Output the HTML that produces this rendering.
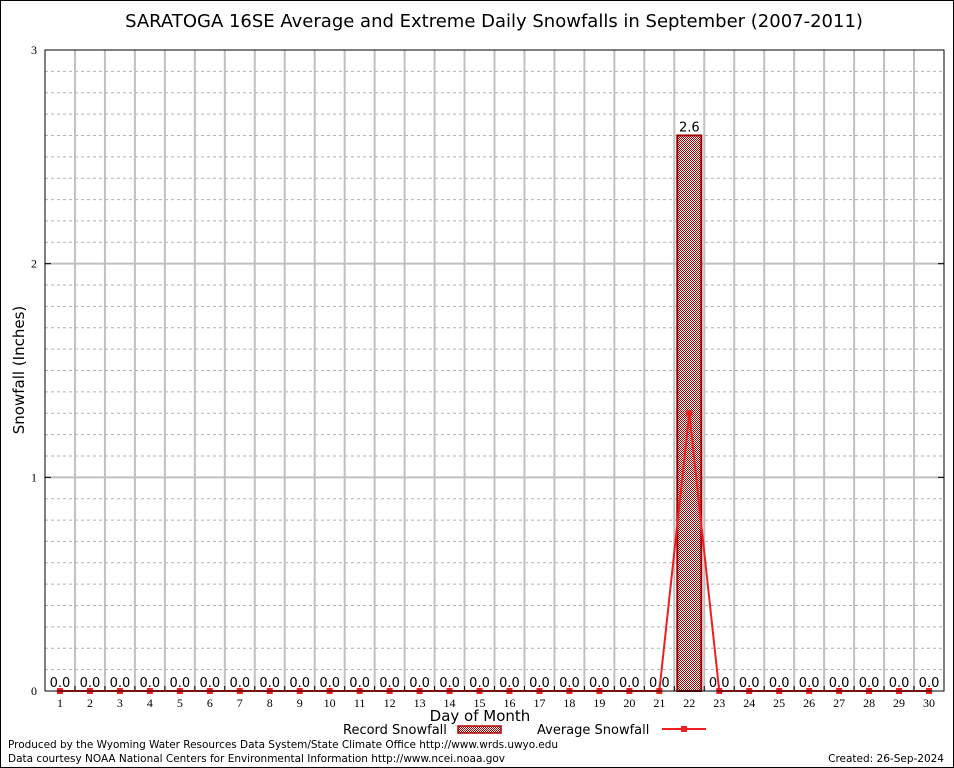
<!DOCTYPE html>
<html><head><meta charset="utf-8"><style>
body{margin:0;background:#fff}
svg{display:block}
</style></head><body>
<svg id="c" width="954" height="768" xmlns="http://www.w3.org/2000/svg" font-family="DejaVu Sans, sans-serif">
<defs>
<pattern id="hatch" width="2" height="2" patternUnits="userSpaceOnUse">
<rect width="2" height="2" fill="#fff"/>
<rect width="1" height="1" fill="#b00000"/><rect x="1" y="1" width="1" height="1" fill="#b00000"/>
</pattern>
</defs>
<rect x="0.5" y="0.5" width="953" height="767" fill="#fff" stroke="#000"/>
<text x="494" y="27" font-size="18" text-anchor="middle">SARATOGA 16SE Average and Extreme Daily Snowfalls in September (2007-2011)</text>
<g id="grid"></g>
<g id="marks"></g>
<rect x="45" y="50" width="899" height="641" fill="none" stroke="#000"/>
<text transform="translate(24,370) rotate(-90)" font-size="15" text-anchor="middle">Snowfall (Inches)</text>
<text x="480" y="721" font-size="15" text-anchor="middle">Day of Month</text>
<g>
<text x="343" y="734" font-size="13">Record Snowfall</text>
<rect x="458" y="726" width="43" height="7" fill="url(#hatch)" stroke="#b00000" stroke-width="1.5"/>
<text x="537" y="734" font-size="13">Average Snowfall</text>
<line x1="662" y1="729" x2="706" y2="729" stroke="#f02020" stroke-width="2"/>
<rect x="681" y="726" width="6" height="6" fill="#f02020"/>
</g>
<text x="8" y="748" font-size="10.5" textLength="550">Produced by the Wyoming Water Resources Data System/State Climate Office http://www.wrds.uwyo.edu</text>
<text x="8" y="762" font-size="10.5" textLength="497">Data courtesy NOAA National Centers for Environmental Information http://www.ncei.noaa.gov</text>
<text x="944" y="762" font-size="10.5" text-anchor="end">Created:  26-Sep-2024</text>
</svg>
<script>
const days = Array.from({length:30},(_,i)=>i+1);
const recordSnow = [0,0,0,0,0,0,0,0,0,0,0,0,0,0,0,0,0,0,0,0,0,2.6,0,0,0,0,0,0,0,0];
const avgSnow = [0,0,0,0,0,0,0,0,0,0,0,0,0,0,0,0,0,0,0,0,0,1.3,0,0,0,0,0,0,0,0];
const yTicks = [0,1,2,3];
const L=45,R=944,T=50,B=691,YMAX=3;
const slot=(R-L)/30;
const xs=d=>L+slot*(d-0.5);
const ys=v=>B-(v/YMAX)*(B-T);
const NS='http://www.w3.org/2000/svg';
function mk(tag,attrs,parent,txt){const e=document.createElementNS(NS,tag);for(const k in attrs)e.setAttribute(k,attrs[k]);if(txt!==undefined)e.textContent=txt;parent.appendChild(e);return e;}
const grid=document.getElementById('grid'), marks=document.getElementById('marks');
for(let v=0.1;v<YMAX-0.001;v+=0.1){
  if(Math.abs(v-Math.round(v))<0.01)continue;
  const l=mk('line',{x1:L,x2:R,y1:ys(v),y2:ys(v),stroke:'#b0b0b0','stroke-dasharray':'3,3','stroke-width':1},grid);
  
  
}
for(let i=1;i<30;i++){
  const x=L+slot*i;
  const l=mk('line',{x1:x,x2:x,y1:T,y2:B,stroke:'#c0c0c0','stroke-width':2},grid);
  
  
}
yTicks.forEach(v=>{
  if(v>0&&v<YMAX){const l=mk('line',{x1:L,x2:R,y1:ys(v),y2:ys(v),stroke:'#c0c0c0','stroke-width':2},grid);
  
  }
  const tk=mk('line',{x1:L,x2:L+6,y1:ys(v),y2:ys(v),stroke:'#000'},grid);
  
  
  const tk2=mk('line',{x1:R-6,x2:R,y1:ys(v),y2:ys(v),stroke:'#000'},grid);
  
  
  const t=mk('text',{x:L-8,y:ys(v)+4,'font-size':12,'text-anchor':'end','font-family':'Liberation Serif, serif'},grid,String(v));
  
  
});
days.forEach((d,i)=>{
  const x=xs(d);
  const t=mk('text',{x:x,y:707,'font-size':12,'text-anchor':'middle','font-family':'Liberation Serif, serif'},grid,String(d));
  
  
  const tk=mk('line',{x1:L+slot*(i+1),x2:L+slot*(i+1),y1:B-5,y2:B,stroke:'#000'},grid);
  
  
  const v=recordSnow[i];
  if(v>0){
    const b=mk('rect',{x:x-12,y:ys(v),width:24,height:B-ys(v),fill:'url(#hatch)',stroke:'#a00000','stroke-width':2},marks);
    
    
  }
  const lb=mk('text',{x:x,y:ys(v)-4,'font-size':13,'text-anchor':'middle'},marks,v.toFixed(1));
  
  
});
const pts=days.map((d,i)=>xs(d)+','+ys(avgSnow[i])).join(' ');
const pl=mk('polyline',{points:pts,fill:'none',stroke:'#f02020','stroke-width':2},marks);


days.forEach((d,i)=>{
  const m=mk('rect',{x:xs(d)-3,y:ys(avgSnow[i])-3,width:6,height:6,fill:'#f02020'},marks);
  
  
});
</script>
</body></html>
